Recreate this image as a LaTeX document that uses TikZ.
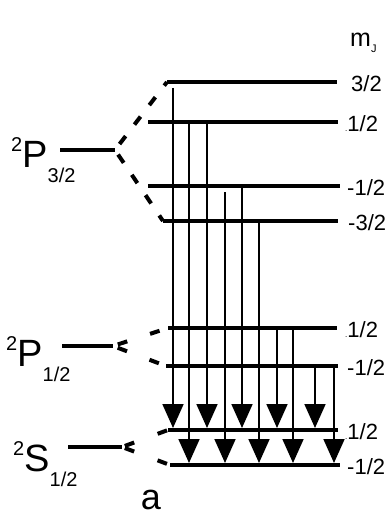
\documentclass[tikz,border=0pt]{standalone}
\usepackage{fontspec}
\setmainfont{Liberation Sans}
\usetikzlibrary{arrows.meta}

\newcommand{\term}[2]{\raisebox{16pt}{\fontsize{20}{20}\selectfont 2}#1\raisebox{-15pt}{\fontsize{20}{20}\selectfont #2}}
\newcommand{\dotlab}{{\fontsize{8}{8}\selectfont.}1/2}

\begin{document}
\begin{tikzpicture}[x=1pt,y=-1pt,
    level/.style={line width=4pt},
    split/.style={line width=4pt,dash pattern=on 10pt off 14.5pt,dash phase=17pt},
    splitsm/.style={line width=4pt,dash pattern=on 10pt off 24pt,dash phase=29pt},
    splitgr/.style={line width=4pt,dash pattern=on 10pt off 25pt,dash phase=32pt},
    trans/.style={line width=1.8pt,-{Triangle[width=21pt,length=24pt]}},
    mjlab/.style={anchor=west,inner sep=0pt,yshift=-2pt,font=\fontsize{22}{24}\selectfont},
    termlab/.style={anchor=base west,inner sep=0pt,font=\fontsize{38}{42}\selectfont}]
        \useasboundingbox (0,0) rectangle (391,516);

        % fine structure terms
        \foreach \name/\xa/\xb/\y in {Phi/60/115/150,Plo/62/113/346,Sgr/68/122/447}{
            \coordinate (\name-w) at (\xa,\y);
            \coordinate (\name-e) at (\xb,\y);
            \draw[level] (\name-w) -- (\name-e);
        }

        % Zeeman sublevels
        \foreach \name/\xa/\xb/\y in {hp3/167/337/82,hp1/148/338/122,hn1/148/340/186,hn3/163/338/221,
            lp1/168/337/328,ln1/166/338/366,gp1/168/338/430,gn1/170/340/465}{
            \coordinate (\name-w) at (\xa,\y);
            \coordinate (\name-e) at (\xb,\y);
            \draw[level] (\name-w) -- (\name-e);
        }

        % splitting
        \draw[split] (Phi-e) -- (hp3-w);
        \draw[split,dash phase=19pt] (Phi-e) -- (hn3-w);
        \draw[splitsm] (Plo-e) -- (lp1-w);
        \draw[splitsm] (Plo-e) -- (ln1-w);
        \draw[splitgr] (Sgr-e) -- (gp1-w);
        \draw[splitgr] (Sgr-e) -- (gn1-w);

        % transitions
        \foreach \x/\from/\to/\gap in {173/hp3/gp1/6,189/hp1/gn1/0,207/hp1/gp1/0,
            225/hn1/gn1/6,242/hn1/gp1/0,259/hn3/gn1/0,277/lp1/gp1/0,
            293/lp1/gn1/0,315/ln1/gp1/2,334/ln1/gn1/0}{
            \draw[trans,shorten <=\gap pt,shorten >=2pt] (\x,0 |- \from-e) -- (\x,0 |- \to-e);
        }

        % m_J labels
        \foreach \lv/\lx/\txt in {hp3/351/{3/2},hp1/345/{\dotlab},hn1/347/{-1/2},hn3/348/{-3/2},
            lp1/345/{\dotlab},ln1/347/{-1/2},gp1/345/{\dotlab},gn1/347/{-1/2}}{
            \node[mjlab] at (\lx,0 |- \lv-e) {\txt};
        }
        \node[anchor=base west,inner sep=0pt,font=\fontsize{25}{27}\selectfont] (mj) at (350,47)
            {m\raisebox{-6pt}{\fontsize{11}{11}\selectfont J}};

        \node[termlab] (tPhi) at (11,167) {\term{P}{3/2}};
        \node[termlab] (tPlo) at (6,366) {\term{P}{1/2}};
        \node[termlab] (tSgr) at (13,471) {\term{S}{1/2}};

        \node[inner sep=0pt,font=\fontsize{36}{40}\selectfont] (cap) at (151,500) {a};
    \end{tikzpicture}
\end{document}
